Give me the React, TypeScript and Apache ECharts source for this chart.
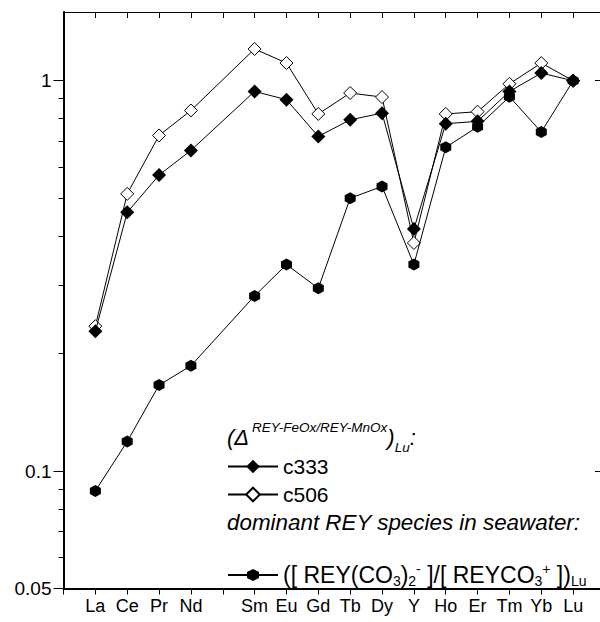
import { useEffect, useRef } from 'react';
import * as echarts from 'echarts';

// Elements (empty string = Pm gap)
const elements = ['La', 'Ce', 'Pr', 'Nd', '', 'Sm', 'Eu', 'Gd', 'Tb', 'Dy', 'Y', 'Ho', 'Er', 'Tm', 'Yb', 'Lu'];
const c333 = [0.228, 0.46, 0.573, 0.663, null, 0.939, 0.894, 0.72, 0.794, 0.826, 0.417, 0.776, 0.787, 0.939, 1.046, 1.0];
const c506 = [0.235, 0.513, 0.724, 0.839, null, 1.206, 1.11, 0.822, 0.93, 0.908, 0.384, 0.822, 0.833, 0.982, 1.11, 1.0];
const seawater = [0.0889, 0.119, 0.166, 0.186, null, 0.281, 0.338, 0.294, 0.5, 0.536, 0.338, 0.675, 0.762, 0.91, 0.739, 1.0];
const yMajorTicks = [0.05, 0.1, 1];
const yMinorTicks = [0.06, 0.07, 0.08, 0.09, 0.2, 0.3, 0.4, 0.5, 0.6, 0.7, 0.8, 0.9];

const FONT = "'Liberation Sans', Arial, sans-serif";
const HEX = 'path://M0,-1 L0.866,-0.5 L0.866,0.5 L0,1 L-0.866,0.5 L-0.866,-0.5 Z';

const toPairs = (arr: (number | null)[]) =>
  arr.map((v, i) => (v == null ? null : [i, v])).filter((p) => p !== null) as number[][];

export default function App() {
  const ref = useRef<HTMLDivElement>(null);
  useEffect(() => {
    if (!ref.current) return;
    const chart = echarts.init(ref.current, undefined, { renderer: 'svg' });
    const logAxis = (extra: any) => ({
      type: 'log',
      logBase: 10,
      min: 0.05,
      max: 1.5,
      splitLine: { show: false },
      minorTick: { show: false },
      ...extra,
    });
    const valX = (extra: any) => ({
      type: 'value',
      min: -1,
      max: 16,
      interval: 1,
      splitLine: { show: false },
      ...extra,
    });
    const richText = {
      n: { fontSize: 23, fontFamily: FONT, color: '#000', lineHeight: 26 },
      sub: { fontSize: 14, fontFamily: FONT, color: '#000', lineHeight: 14, verticalAlign: 'bottom' },
      sup: { fontSize: 14, fontFamily: FONT, color: '#000', lineHeight: 14, verticalAlign: 'top' },
    };
    chart.setOption({
      animation: false,
      backgroundColor: '#fff',
      grid: { left: 63.5, top: 12, right: -5, bottom: 33.5, outerBoundsMode: 'none' },
      xAxis: [
        valX({
          position: 'bottom',
          axisLine: { show: true, onZero: false, lineStyle: { color: '#000', width: 2 } },
          axisTick: { show: true, inside: false, length: 6, lineStyle: { color: '#000', width: 1 } },
          axisLabel: {
            show: true,
            margin: 8,
            color: '#000',
            fontSize: 18,
            fontFamily: FONT,
            formatter: (v: number) => {
              const i = Math.round(v);
              return i >= 0 && i < elements.length ? elements[i] : '';
            },
          },
        }),
        valX({
          position: 'top',
          axisLine: { show: true, onZero: false, lineStyle: { color: '#000', width: 1 } },
          axisTick: { show: true, inside: true, length: 6, lineStyle: { color: '#000', width: 1 } },
          axisLabel: { show: false },
        }),
      ],
      yAxis: [
        logAxis({
          position: 'left',
          axisLine: { show: true, onZero: false, lineStyle: { color: '#000', width: 2 } },
          axisTick: { show: true, inside: false, length: 10, customValues: yMajorTicks, lineStyle: { color: '#000', width: 1 } },
          axisLabel: {
            show: true,
            customValues: yMajorTicks,
            margin: 12,
            color: '#000',
            fontSize: 19,
            fontFamily: FONT,
            formatter: (v: number) => String(v),
          },
        }),
        logAxis({
          position: 'left',
          axisLine: { show: false, onZero: false },
          axisTick: { show: true, inside: false, length: 5, customValues: yMinorTicks, lineStyle: { color: '#000', width: 1 } },
          axisLabel: { show: false },
        }),
        logAxis({
          position: 'right',
          axisLine: { show: true, onZero: false, lineStyle: { color: '#000', width: 1 } },
          axisTick: { show: true, inside: true, length: 10, customValues: yMajorTicks, lineStyle: { color: '#000', width: 1 } },
          axisLabel: { show: false },
        }),
        logAxis({
          position: 'right',
          axisLine: { show: false, onZero: false },
          axisTick: { show: true, inside: true, length: 5, customValues: yMinorTicks, lineStyle: { color: '#000', width: 1 } },
          axisLabel: { show: false },
        }),
      ],
      legend: [
        {
          data: ['c333'],
          left: 227,
          top: 456,
          padding: 0,
          orient: 'vertical',
          itemWidth: 50,
          itemHeight: 17,
          selectedMode: false,
          textStyle: { fontSize: 21, fontFamily: FONT, color: '#000' },
        },
        {
          data: ['c506'],
          left: 227,
          top: 484,
          padding: 0,
          orient: 'vertical',
          itemWidth: 50,
          itemHeight: 17,
          selectedMode: false,
          textStyle: { fontSize: 21, fontFamily: FONT, color: '#000' },
        },
        {
          data: ['seawater'],
          left: 227,
          top: 562,
          orient: 'vertical',
          itemWidth: 50,
          itemHeight: 15,
          padding: 0,
          selectedMode: false,
          formatter: () =>
            '{n|([ REY(CO}{sub|3}{n|)}{sub|2}{sup|-}{n| ]/[ REYCO}{sub|3}{sup|+}{n| ])}{sub|Lu}',
          textStyle: { fontSize: 23, fontFamily: FONT, color: '#000', rich: richText },
        },
      ],
      graphic: [
        {
          type: 'text',
          x: 227,
          y: 437,
          style: {
            text: '{n|(Δ}{sup|REY-FeOx/REY-MnOx}{n|)}{sub|Lu}{n|:}',
            verticalAlign: 'middle',
            rich: {
              n: { fontSize: 22, fontStyle: 'italic', fontFamily: FONT, fill: '#000', lineHeight: 34 },
              sup: { fontSize: 13.5, fontStyle: 'italic', fontFamily: FONT, fill: '#000', lineHeight: 14, verticalAlign: 'top', padding: [0, 0, 0, 3] },
              sub: { fontSize: 13.5, fontStyle: 'italic', fontFamily: FONT, fill: '#000', lineHeight: 14, verticalAlign: 'bottom' },
            },
          },
        },
        {
          type: 'text',
          x: 227,
          y: 522,
          style: {
            text: 'dominant REY species in seawater:',
            verticalAlign: 'middle',
            font: `italic 22.4px ${FONT}`,
            fill: '#000',
          },
        },
      ],
      series: [
        {
          name: 'c506',
          type: 'line',
          xAxisIndex: 0,
          yAxisIndex: 0,
          data: toPairs(c506),
          symbol: 'diamond',
          symbolSize: 13,
          itemStyle: { color: '#fff', borderColor: '#000', borderWidth: 1 },
          lineStyle: { color: '#000', width: 1 },
          z: 2,
        },
        {
          name: 'c333',
          type: 'line',
          xAxisIndex: 0,
          yAxisIndex: 0,
          data: toPairs(c333),
          symbol: 'diamond',
          symbolSize: 14,
          itemStyle: { color: '#000' },
          lineStyle: { color: '#000', width: 1 },
          z: 3,
        },
        {
          name: 'seawater',
          type: 'line',
          xAxisIndex: 0,
          yAxisIndex: 0,
          data: toPairs(seawater),
          symbol: HEX,
          symbolSize: [11, 12],
          itemStyle: { color: '#000' },
          lineStyle: { color: '#000', width: 1 },
          z: 4,
        },
      ],
    });
    return () => chart.dispose();
  }, []);
  return (
    <div
      ref={ref}
      style={{ position: 'absolute', left: 0, top: 0, width: 600, height: 622, background: '#fff' }}
    />
  );
}
